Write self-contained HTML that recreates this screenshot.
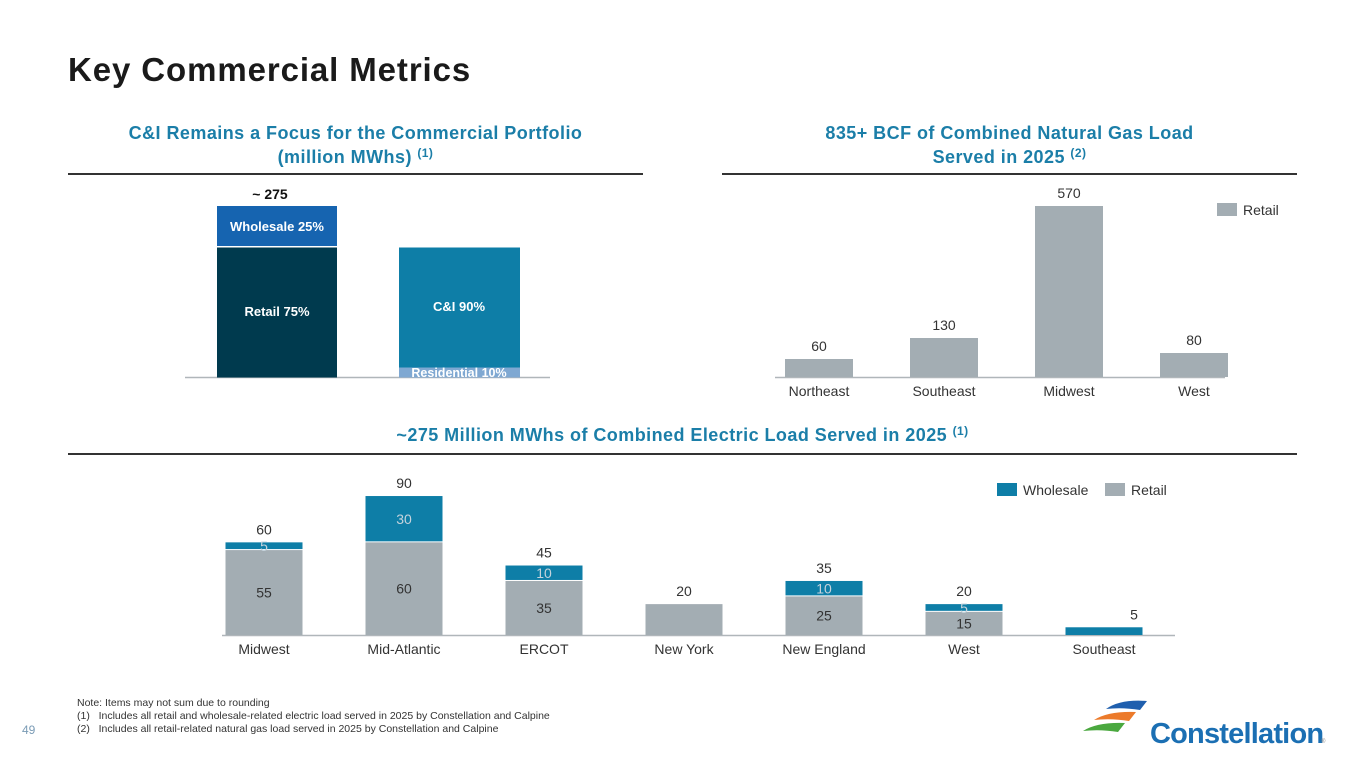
<!DOCTYPE html>
<html><head><meta charset="utf-8"><style>
body{margin:0;width:1365px;height:768px;background:#fff;font-family:"Liberation Sans",sans-serif;position:relative;overflow:hidden}
.a{position:absolute}
.sub{color:#1b7ea8;font-weight:bold;font-size:18px;letter-spacing:0.45px;text-align:center;line-height:24px}
.sub sup{font-size:12px;line-height:0;vertical-align:6px}
.rule{height:1.5px;background:#333}
.note{font-size:10.5px;color:#333;line-height:13px}
</style></head><body>
<div class="a" style="left:68px;top:51px;font-size:33px;letter-spacing:0.9px;font-weight:bold;color:#1a1a1a">Key Commercial Metrics</div>
<div class="a sub" style="left:48px;width:615px;top:121px">C&amp;I Remains a Focus for the Commercial Portfolio<br>(million MWhs) <sup>(1)</sup></div>
<div class="a rule" style="left:68px;width:575px;top:173px"></div>
<div class="a sub" style="left:722px;width:575px;top:121px">835+ BCF of Combined Natural Gas Load<br>Served in 2025 <sup>(2)</sup></div>
<div class="a rule" style="left:722px;width:575px;top:173px"></div>
<div class="a sub" style="left:68px;width:1229px;top:423px">~275 Million MWhs of Combined Electric Load Served in 2025 <sup>(1)</sup></div>
<div class="a rule" style="left:68px;width:1229px;top:453px"></div>

<svg class="a" style="left:0;top:0" width="1365" height="768" id="svg" font-family="Liberation Sans, sans-serif">
<g>
<line x1="185" y1="377.5" x2="550" y2="377.5" stroke="#b0b6ba" stroke-width="1.5"/>
<text x="270" y="199" font-size="14" font-weight="bold" text-anchor="middle" fill="#111">~ 275</text>
<rect x="217" y="206" width="120" height="40" fill="#1664b0"/>
<text x="277" y="231" font-size="13" font-weight="bold" fill="#fff" text-anchor="middle">Wholesale 25%</text>
<rect x="217" y="247.5" width="120" height="130" fill="#003a4e"/>
<text x="277" y="316" font-size="13" font-weight="bold" fill="#fff" text-anchor="middle">Retail 75%</text>
<rect x="399" y="247.5" width="121" height="120" fill="#0e7ea7"/>
<text x="459" y="311" font-size="13" font-weight="bold" fill="#fff" text-anchor="middle">C&amp;I 90%</text>
<rect x="399" y="367.5" width="121" height="10" fill="#7fa8d2"/>
<text x="459" y="377" font-size="12.5" font-weight="bold" fill="#fff" text-anchor="middle">Residential 10%</text>
</g>
<g id="gas"></g>
<g id="elec"></g>
<g>
<path d="M1106 709 Q1120 699 1147 701 L1140 710 Q1122 707 1106 709Z" fill="#1f5fae"/>
<path d="M1094 720 Q1108 711 1136 712 L1129 721 Q1111 718 1094 720Z" fill="#ec7a2a"/>
<path d="M1083 731 Q1097 722 1125 723 L1118 732 Q1100 729 1083 731Z" fill="#4aa83f"/>
<text x="1150" y="743" font-size="29" fill="#1b6fb3" font-weight="bold" letter-spacing="-0.8">Constellation</text>
<text x="1321" y="743" font-size="6" fill="#888">®</text>
</g>
</svg>

<div class="a note" style="left:77px;top:697px">Note: Items may not sum due to rounding<br>(1)&nbsp;&nbsp;&nbsp;Includes all retail and wholesale-related electric load served in 2025 by Constellation and Calpine<br>(2)&nbsp;&nbsp;&nbsp;Includes all retail-related natural gas load served in 2025 by Constellation and Calpine</div>
<div class="a" style="left:22px;top:723px;font-size:12px;color:#7a9bb5">49</div>

<script>
const gasCategories=["Northeast","Southeast","Midwest","West"];
const gasRetail=[60,130,570,80];
const elecCategories=["Midwest","Mid-Atlantic","ERCOT","New York","New England","West","Southeast"];
const elecRetail=[55,60,35,20,25,15,0];
const elecWholesale=[5,30,10,0,10,5,5];
const NS="http://www.w3.org/2000/svg";
function mk(p,tag,attrs,txt){const e=document.createElementNS(NS,tag);for(const k in attrs)e.setAttribute(k,attrs[k]);if(txt!==undefined)e.textContent=txt;p.appendChild(e);return e;}
const GRAY="#a3adb3",TEAL="#0e7ea7";
const g=document.getElementById('gas');
const gx=i=>819+i*125, gy=v=>377-v*0.3;
mk(g,'line',{x1:775,y1:377.5,x2:1225,y2:377.5,stroke:"#b0b6ba","stroke-width":1.5});
gasCategories.forEach((c,i)=>{
  const r=mk(g,'rect',{x:gx(i)-34,y:gy(gasRetail[i]),width:68,height:377-gy(gasRetail[i]),fill:GRAY});
  
  
  mk(g,'text',{x:gx(i),y:gy(gasRetail[i])-8,"font-size":14,fill:"#333","text-anchor":"middle"},gasRetail[i]);
  mk(g,'text',{x:gx(i),y:396,"font-size":14,fill:"#333","text-anchor":"middle"},c);
});
const gl=mk(g,'rect',{x:1217,y:203,width:20,height:13,fill:GRAY});


mk(g,'text',{x:1243,y:215,"font-size":14,fill:"#333"},"Retail");
const e=document.getElementById('elec');
const ex=i=>264+i*140, ey=v=>635-v*1.544;
mk(e,'line',{x1:222,y1:635.5,x2:1175,y2:635.5,stroke:"#b0b6ba","stroke-width":1.5});
elecCategories.forEach((c,i)=>{
  const r=elecRetail[i],w=elecWholesale[i],t=r+w,x=ex(i)-38.5;
  if(r>0){const b=mk(e,'rect',{x:x,y:ey(r),width:77,height:635-ey(r),fill:GRAY});
    
    }
  if(w>0){const b=mk(e,'rect',{x:x,y:ey(t),width:77,height:ey(r)-ey(t)-(r>0?1:0),fill:TEAL});
    
    }
  if(r>0&&w>0){
    mk(e,'text',{x:ex(i),y:(ey(r)+635)/2+5,"font-size":14,fill:"#333","text-anchor":"middle"},r);
    mk(e,'text',{x:ex(i),y:(ey(t)+ey(r))/2+5,"font-size":14,fill:"#c5d3dc","text-anchor":"middle"},w);
  }
  mk(e,'text',{x:ex(i)+(r===0?30:0),y:ey(t)-8,"font-size":14,fill:"#333","text-anchor":"middle"},t);
  mk(e,'text',{x:ex(i),y:654,"font-size":14,fill:"#333","text-anchor":"middle"},c);
});
const l1=mk(e,'rect',{x:997,y:483,width:20,height:13,fill:TEAL});


mk(e,'text',{x:1023,y:495,"font-size":14,fill:"#333"},"Wholesale");
const l2=mk(e,'rect',{x:1105,y:483,width:20,height:13,fill:GRAY});


mk(e,'text',{x:1131,y:495,"font-size":14,fill:"#333"},"Retail");
</script>
</body></html>
